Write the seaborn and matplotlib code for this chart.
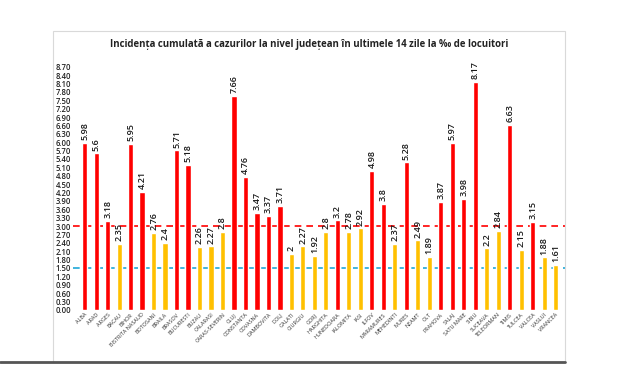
import numpy as np
import pandas as pd
import seaborn as sns
import matplotlib.pyplot as plt
from matplotlib.patches import Rectangle
from matplotlib.lines import Line2D

# Date: judete si incidenta la 1000 de locuitori
judete = ["ALBA", "ARAD", "ARGES", "BACAU", "BIHOR", "BISTRITA NASAUD", "BOTOSANI",
          "BRAILA", "BRASOV", "BUCURESTI", "BUZAU", "CALARASI", "CARAS-SEVERIN", "CLUJ",
          "CONSTANTA", "COVASNA", "DAMBOVITA", "DOLJ", "GALATI", "GIURGIU", "GORJ",
          "HARGHITA", "HUNEDOARA", "IALOMITA", "IASI", "ILFOV", "MARAMURES", "MEHEDINTI",
          "MURES", "NEAMT", "OLT", "PRAHOVA", "SALAJ", "SATU MARE", "SIBIU", "SUCEAVA",
          "TELEORMAN", "TIMIS", "TULCEA", "VALCEA", "VASLUI", "VRANCEA"]
incidenta = [5.98, 5.6, 3.18, 2.35, 5.95, 4.21, 2.76, 2.4, 5.71, 5.18, 2.26, 2.27, 2.8,
             7.66, 4.76, 3.47, 3.37, 3.71, 2, 2.27, 1.92, 2.8, 3.2, 2.78, 2.92, 4.98, 3.8,
             2.37, 5.28, 2.49, 1.89, 3.87, 5.97, 3.98, 8.17, 2.2, 2.84, 6.63, 2.15, 3.15,
             1.88, 1.61]
prag_rosu = 3.0
prag_albastru = 1.5

df = pd.DataFrame({"judet": judete, "incidenta": incidenta})
df["nivel"] = np.where(df["incidenta"] > prag_rosu, "peste", "sub")

sns.set_style("white")
plt.rcParams['font.family'] = ['Open Sans', 'DejaVu Sans']

fig = plt.figure(figsize=(6.2, 3.85), dpi=100)
ax = fig.add_axes([0.118, 0.195, 0.793, 0.639])

sns.barplot(data=df, x="judet", y="incidenta", hue="nivel", dodge=False,
            palette={"peste": "#FF0000", "sub": "#FFC000"}, width=0.45,
            saturation=1, legend=False, ax=ax)

for c in ax.containers:
    ax.bar_label(c, fmt="{:g}", rotation=90, padding=2, fontsize=6.5,
                 fontweight="semibold", color="#1a1a1a")

ax.axhline(prag_rosu, color="#FF0000", ls=(0, (4, 3)), lw=1.2, zorder=0)
ax.axhline(prag_albastru, color="#1FA8D8", ls=(0, (4, 3)), lw=1.2, zorder=0)

ax.set_xlim(-1, len(judete) - 0.2)
ax.set_ylim(0, 8.8)
ax.set_yticks(np.arange(0, 8.71, 0.3))
ax.set_yticklabels(["%.2f" % v for v in np.arange(0, 8.71, 0.3)], fontsize=5.5,
                   fontweight="semibold", color="#222222")
ax.set_xticks(range(len(judete)))
ax.set_xticklabels(judete, rotation=45, ha="right", rotation_mode="anchor",
                   fontsize=4, color="#333333")
ax.tick_params(length=0, pad=1.5)
ax.set_xlabel("")
ax.set_ylabel("")
for s in ax.spines.values():
    s.set_visible(False)

# cadrul graficului
fig.patches.append(Rectangle((53 / 620, 1 - 362 / 385), 512 / 620, 331 / 385,
                             transform=fig.transFigure, fill=False,
                             edgecolor="#d9d9d9", lw=0.8))
fig.lines.append(Line2D([0, 565 / 620], [1 - 362 / 385] * 2, transform=fig.transFigure,
                        color="#555555", lw=2))

fig.text(309 / 620, 1 - 44 / 385,
         "Incidența cumulată a cazurilor la nivel județean în ultimele 14 zile la ‰ de locuitori",
         ha="center", va="center", fontsize=6.9, fontweight="bold", color="#222222")

fig.savefig("out.png", dpi=100)
